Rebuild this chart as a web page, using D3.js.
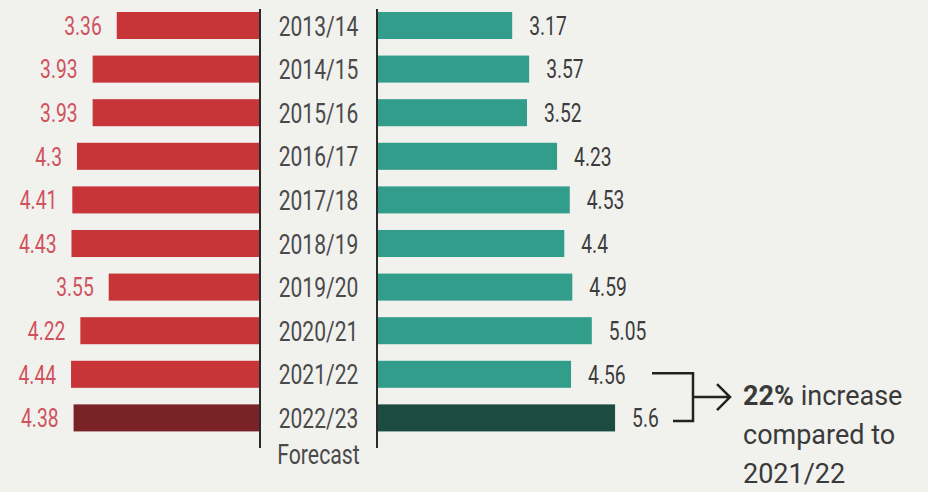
<!DOCTYPE html>
<html>
<head>
<meta charset="utf-8">
<script src="https://cdn.jsdelivr.net/npm/d3@7"></script>
<style>
  html, body { margin: 0; padding: 0; background: #f1f1ee; }
  svg { display: block; }
</style>
</head>
<body>
<div id="chart"></div>
<script>
// data
const years = ["2013/14", "2014/15", "2015/16", "2016/17", "2017/18", "2018/19", "2019/20", "2020/21", "2021/22", "2022/23"];
const leftValues = [3.36, 3.93, 3.93, 4.3, 4.41, 4.43, 3.55, 4.22, 4.44, 4.38];
const rightValues = [3.17, 3.57, 3.52, 4.23, 4.53, 4.4, 4.59, 5.05, 4.56, 5.6];
const leftLabels = ["3.36", "3.93", "3.93", "4.3", "4.41", "4.43", "3.55", "4.22", "4.44", "4.38"];
const rightLabels = ["3.17", "3.57", "3.52", "4.23", "4.53", "4.4", "4.59", "5.05", "4.56", "5.6"];
const noteLines = ["increase", "compared to", "2021/22"];
const notePct = "22%";

const width = 928, height = 492;
const leftAxisX = 260, rightAxisX = 377;

const svg = d3.select("#chart")
    .append("svg")
    .attr("width", width)
    .attr("height", height);

svg.append("rect")
    .attr("width", width)
    .attr("height", height)
    .attr("fill", "#f1f1ee");

const yScale = d3.scaleBand()
    .domain(years)
    .range([3.7, 439.7])
    .paddingInner(0.38)
    .paddingOuter(0.19);

const xScale = d3.scaleLinear()
    .domain([0, 6])
    .range([0, 254]);

const rows = years.map((y, i) => ({
    year: y, left: leftValues[i], right: rightValues[i],
    leftLabel: leftLabels[i], rightLabel: rightLabels[i],
    last: i === years.length - 1
}));

// squeeze text horizontally (print font is a condensed one)
function condense(factor) {
    return function (sel) {
        sel.each(function () {
            const w = this.getComputedTextLength();
            d3.select(this)
                .attr("textLength", w * factor)
                .attr("lengthAdjust", "spacingAndGlyphs");
        });
    };
}

// left bars (red)
svg.selectAll(".lbar")
    .data(rows)
    .enter().append("rect")
    .attr("class", "lbar")
    .attr("x", d => leftAxisX - 1 - xScale(d.left))
    .attr("y", d => yScale(d.year))
    .attr("width", d => xScale(d.left))
    .attr("height", yScale.bandwidth())
    .attr("fill", d => d.last ? "#7a2327" : "#c73538");

// right bars (teal)
svg.selectAll(".rbar")
    .data(rows)
    .enter().append("rect")
    .attr("class", "rbar")
    .attr("x", rightAxisX + 1)
    .attr("y", d => yScale(d.year))
    .attr("width", d => xScale(d.right))
    .attr("height", yScale.bandwidth())
    .attr("fill", d => d.last ? "#1c4b41" : "#329d8a");

// axis lines
[leftAxisX, rightAxisX].forEach(x => {
    svg.append("line")
        .attr("x1", x).attr("x2", x)
        .attr("y1", 9).attr("y2", 448)
        .attr("stroke", "#2b2b2b")
        .attr("stroke-width", 2);
});

// value labels
svg.selectAll(".llab")
    .data(rows)
    .enter().append("text")
    .attr("class", "llab")
    .attr("x", d => leftAxisX - 1 - xScale(d.left) - 15)
    .attr("y", d => yScale(d.year) + yScale.bandwidth() / 2)
    .attr("dy", "0.36em")
    .attr("text-anchor", "end")
    .attr("font-family", "Roboto, sans-serif")
    .attr("font-size", 26)
    .attr("fill", "#d0525c")
    .text(d => d.leftLabel)
    .call(condense(0.74));

svg.selectAll(".rlab")
    .data(rows)
    .enter().append("text")
    .attr("class", "rlab")
    .attr("x", d => rightAxisX + 1 + xScale(d.right) + 17)
    .attr("y", d => yScale(d.year) + yScale.bandwidth() / 2)
    .attr("dy", "0.36em")
    .attr("font-family", "Roboto, sans-serif")
    .attr("font-size", 26)
    .attr("fill", "#3c3c3c")
    .text(d => d.rightLabel)
    .call(condense(0.74));

// year labels in the middle
const midX = (leftAxisX + rightAxisX) / 2;
svg.selectAll(".ylab")
    .data(rows)
    .enter().append("text")
    .attr("class", "ylab")
    .attr("x", midX)
    .attr("y", d => yScale(d.year) + yScale.bandwidth() / 2)
    .attr("dy", "0.36em")
    .attr("text-anchor", "middle")
    .attr("font-family", "Roboto, sans-serif")
    .attr("font-size", 28)
    .attr("fill", "#4a4a4a")
    .text(d => d.year)
    .call(condense(0.75));

svg.append("text")
    .attr("x", midX)
    .attr("y", 464)
    .attr("text-anchor", "middle")
    .attr("font-family", "Roboto, sans-serif")
    .attr("font-size", 28)
    .attr("fill", "#4a4a4a")
    .text("Forecast")
    .call(condense(0.76));

// bracket + arrow between the last two teal bars
const yA = yScale("2021/22") + yScale.bandwidth() / 2 - 1;
const yB = yScale("2022/23") + yScale.bandwidth() / 2 + 3;
const bx = 693;
svg.append("path")
    .attr("d", `M652,${yA}H${bx}V${yB}H673`)
    .attr("fill", "none")
    .attr("stroke", "#222")
    .attr("stroke-width", 2.5);

const yM = (yA + yB) / 2;
svg.append("path")
    .attr("d", `M${bx},${yM}H730M717,${yM - 13}L730,${yM}L717,${yM + 13}`)
    .attr("fill", "none")
    .attr("stroke", "#222")
    .attr("stroke-width", 2.5);

// annotation text
const note = svg.append("g")
    .attr("font-family", "Roboto, sans-serif")
    .attr("font-size", 27)
    .attr("fill", "#3a3a3a");

const first = note.append("text")
    .attr("x", 743)
    .attr("y", 405);
first.append("tspan")
    .attr("font-weight", "bold")
    .text(notePct);
first.append("tspan")
    .text(" " + noteLines[0]);

note.append("text")
    .attr("x", 743)
    .attr("y", 444)
    .text(noteLines[1]);

note.append("text")
    .attr("x", 743)
    .attr("y", 483)
    .text(noteLines[2]);
</script>
</body>
</html>
